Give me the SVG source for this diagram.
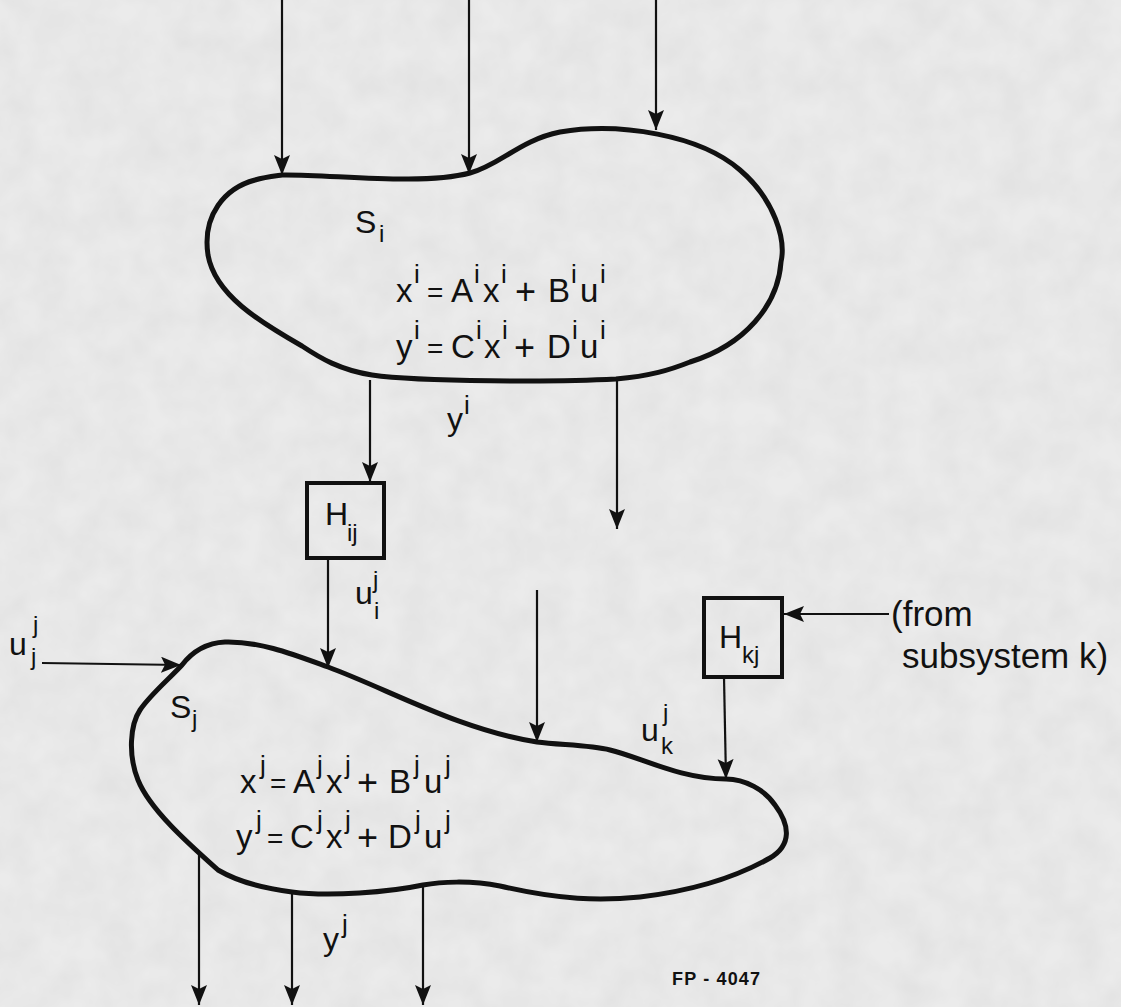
<svg xmlns="http://www.w3.org/2000/svg" width="1121" height="1007" viewBox="0 0 1121 1007">
<defs>
<marker id="ah" markerWidth="22" markerHeight="18" refX="20" refY="8" orient="auto" markerUnits="userSpaceOnUse">
<path d="M0,0 L20,8 L0,16 L4,8 Z" fill="#111"/>
</marker>
<filter id="paper" x="0" y="0" width="100%" height="100%">
<feTurbulence type="fractalNoise" baseFrequency="0.03" numOctaves="3" seed="7"/>
<feColorMatrix type="matrix" values="0 0 0 0 0.45  0 0 0 0 0.45  0 0 0 0 0.45  0 0 0 0.22 -0.05"/>
</filter>
</defs>
<style>
.blob{fill:none;stroke:#111;stroke-width:5;stroke-linejoin:round}
.box{fill:none;stroke:#111;stroke-width:4}
.ar{fill:none;stroke:#111;stroke-width:2.2;marker-end:url(#ah)}
text{font-family:"Liberation Sans","DejaVu Sans",sans-serif;fill:#111}
.eq{font-size:33px}
.op{font-size:36px}
.eqs{font-size:28px}
.lb{font-size:32px}
.sup{font-size:26px}
.sub{font-size:24px}
.note{font-size:35px}
</style>
<rect width="1121" height="1007" fill="#ebebeb"/>
<rect width="1121" height="1007" filter="url(#paper)"/>
<g id="Si">
<path class="blob" d="M282,175 C330,174 420,186 470,173 C500,165 520,140 560,132 C620,122 700,135 740,170 C775,200 786,240 781,262 C778,305 745,345 690,362 C670,370 650,376 616,379 C560,382 420,382 372,375 C340,370 320,358 302,346 C260,322 215,295 208,255 C202,215 225,188 255,180 C265,177 275,176 282,175 Z"/>
<text class="lb" x="355" y="233">S</text>
<text class="sub" x="379" y="242">i</text>
<text class="eq"><tspan x="396" y="302">x</tspan><tspan class="sup" x="414" y="283">i</tspan><tspan class="eqs" x="427" y="302">=</tspan><tspan x="451" y="302">A</tspan><tspan class="sup" x="474" y="283">i</tspan><tspan x="483" y="302">x</tspan><tspan class="sup" x="501" y="283">i</tspan><tspan class="op" x="515" y="304">+</tspan><tspan x="548" y="302">B</tspan><tspan class="sup" x="571" y="283">i</tspan><tspan x="580" y="302">u</tspan><tspan class="sup" x="600" y="283">i</tspan></text>
<text class="eq"><tspan x="396" y="358">y</tspan><tspan class="sup" x="414" y="339">i</tspan><tspan class="eqs" x="427" y="358">=</tspan><tspan x="451" y="358">C</tspan><tspan class="sup" x="476" y="339">i</tspan><tspan x="484" y="358">x</tspan><tspan class="sup" x="502" y="339">i</tspan><tspan class="op" x="514" y="360">+</tspan><tspan x="547" y="358">D</tspan><tspan class="sup" x="572" y="339">i</tspan><tspan x="580" y="358">u</tspan><tspan class="sup" x="600" y="339">i</tspan></text>
</g>
<g id="Hij">
<rect class="box" x="307" y="483" width="77" height="75"/>
<text class="lb" x="325" y="525">H</text>
<text class="sub" x="347" y="541">ij</text>
</g>
<g id="Hkj">
<rect class="box" x="704" y="598" width="78" height="79"/>
<text class="lb" x="719" y="648">H</text>
<text class="sub" x="742" y="663">kj</text>
</g>
<g id="Sj">
<path class="blob" d="M182,665 C192,652 205,643 225,642 C260,641 295,655 328,667 C390,690 460,730 537,742 C560,745 590,745 610,750 C640,757 680,779 726,779 C745,779 765,790 775,805 C790,825 792,845 770,858 C740,875 700,890 640,897 C600,901 560,900 500,886 C470,880 440,882 423,885 C390,892 330,897 292,892 C260,888 235,880 218,870 C190,845 150,810 138,780 C128,755 130,725 140,710 C150,695 168,680 182,665 Z"/>
<text class="lb" x="170" y="718">S</text>
<text class="sub" x="192" y="727">j</text>
<text class="eq"><tspan x="240" y="793">x</tspan><tspan class="sup" x="260" y="774">j</tspan><tspan class="eqs" x="270" y="793">=</tspan><tspan x="293" y="793">A</tspan><tspan class="sup" x="317" y="774">j</tspan><tspan x="326" y="793">x</tspan><tspan class="sup" x="345" y="774">j</tspan><tspan class="op" x="357" y="795">+</tspan><tspan x="389" y="793">B</tspan><tspan class="sup" x="414" y="774">j</tspan><tspan x="424" y="793">u</tspan><tspan class="sup" x="445" y="774">j</tspan></text>
<text class="eq"><tspan x="236" y="848">y</tspan><tspan class="sup" x="256" y="829">j</tspan><tspan class="eqs" x="267" y="848">=</tspan><tspan x="290" y="848">C</tspan><tspan class="sup" x="317" y="829">j</tspan><tspan x="326" y="848">x</tspan><tspan class="sup" x="345" y="829">j</tspan><tspan class="op" x="357" y="850">+</tspan><tspan x="388" y="848">D</tspan><tspan class="sup" x="415" y="829">j</tspan><tspan x="424" y="848">u</tspan><tspan class="sup" x="445" y="829">j</tspan></text>
</g>
<g id="connectors">
<line class="ar" x1="282" y1="0" x2="282" y2="175"/>
<line class="ar" x1="469" y1="0" x2="469" y2="174"/>
<line class="ar" x1="656" y1="0" x2="656" y2="130"/>
<line class="ar" x1="370" y1="380" x2="370" y2="482"/>
<line class="ar" x1="617" y1="380" x2="617" y2="529"/>
<line class="ar" x1="328" y1="558" x2="328" y2="668"/>
<line class="ar" x1="42" y1="663" x2="181" y2="665"/>
<line class="ar" x1="537" y1="590" x2="537" y2="742"/>
<line class="ar" x1="889" y1="614" x2="784" y2="614"/>
<line class="ar" x1="724" y1="677" x2="726" y2="779"/>
<line class="ar" x1="199" y1="855" x2="199" y2="1005"/>
<line class="ar" x1="292" y1="893" x2="292" y2="1005"/>
<line class="ar" x1="423" y1="886" x2="423" y2="1005"/>
</g>
<g id="labels">
<text class="lb" x="447" y="430">y</text>
<text class="sup" x="464" y="414">i</text>
<text class="lb" x="355" y="604">u</text>
<text class="sub" x="373" y="588">j</text>
<text class="sub" x="374" y="619">i</text>
<text class="lb" x="9" y="655">u</text>
<text class="sub" x="33" y="633">j</text>
<text class="sub" x="31" y="665">j</text>
<text class="lb" x="641" y="741">u</text>
<text class="sub" x="663" y="721">j</text>
<text class="sub" x="661" y="754">k</text>
<text class="lb" x="323" y="950">y</text>
<text class="sup" x="342" y="933">j</text>
<text class="note" x="891" y="626">(from</text>
<text class="note" x="902" y="668">subsystem k)</text>
<text x="672" y="985" font-size="18" font-weight="bold" textLength="88" lengthAdjust="spacing">FP - 4047</text>
</g>
</svg>
